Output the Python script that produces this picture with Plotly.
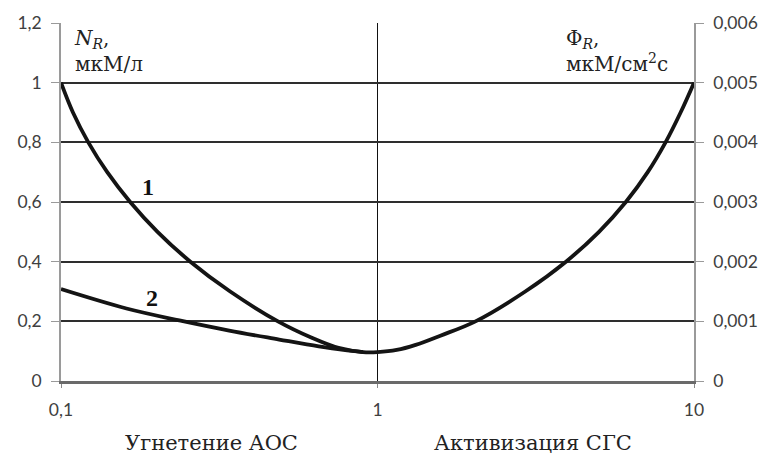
import plotly.graph_objects as go

# Curve 1 (full)
x1 = [0.1, 0.1091, 0.122, 0.14, 0.1654, 0.2018, 0.2563, 0.3424, 0.4848, 0.62, 0.753, 0.9, 1.0,
      1.15, 1.32, 1.58, 2.04, 2.93, 3.94, 5.01, 6.09, 7.14, 8.13, 9.07, 10.0]
y1 = [1.0, 0.9, 0.8, 0.7, 0.6, 0.5, 0.4, 0.3, 0.2, 0.145, 0.111, 0.097, 0.097,
      0.104, 0.121, 0.152, 0.2, 0.3, 0.4, 0.5, 0.6, 0.7, 0.8, 0.9, 1.0]

# Curve 2 (left branch)
x2 = [0.1, 0.161, 0.2366, 0.34, 0.489, 0.652, 0.78, 0.9]
y2 = [0.308, 0.243, 0.203, 0.169, 0.139, 0.116, 0.104, 0.097]

x_ticks = [0.1, 1, 10]
x_ticktext = ["0,1", "1", "10"]
y_left_ticks = [0, 0.2, 0.4, 0.6, 0.8, 1.0, 1.2]
y_right_ticks = [0, 0.001, 0.002, 0.003, 0.004, 0.005, 0.006]

line_col = "#141414"
fig = go.Figure()
fig.add_trace(go.Scatter(x=x1, y=y1, mode="lines",
                         line=dict(color=line_col, width=3.8, shape="spline", smoothing=1.0),
                         showlegend=False, hoverinfo="skip"))
fig.add_trace(go.Scatter(x=x2, y=y2, mode="lines",
                         line=dict(color=line_col, width=3.8, shape="spline", smoothing=1.0),
                         showlegend=False, hoverinfo="skip"))
# invisible trace to activate right axis
fig.add_trace(go.Scatter(x=[0.1], y=[0], yaxis="y2", mode="markers", marker=dict(opacity=0),
                         showlegend=False, hoverinfo="skip"))

tickfont = dict(family="Lato, Noto Sans, sans-serif", size=17.5, color="#404040")

fig.update_layout(
    width=770, height=456,
    margin=dict(l=61, r=73, t=20, b=75),
    paper_bgcolor="white", plot_bgcolor="white",
    separators=", ",
    xaxis=dict(type="log", range=[-1, 1], tickvals=x_ticks, ticktext=x_ticktext,
               showgrid=True, gridcolor="#111111", gridwidth=1.4,
               showline=True, linecolor="#6a6a6a", linewidth=3, mirror=False,
               ticks="outside", ticklen=4, tickcolor="#8a8a8a", tickfont=tickfont,
               ticklabelstandoff=7, zeroline=False),
    yaxis=dict(range=[0, 1.2], tickvals=y_left_ticks, showgrid=True, gridcolor="#2e2e2e", gridwidth=1.6,
               showline=True, linecolor="#9a9a9a", linewidth=1.5,
               ticks="outside", ticklen=8, tickcolor="#9a9a9a", tickfont=tickfont,
               ticklabelstandoff=6, zeroline=False),
    yaxis2=dict(range=[0, 0.006], tickvals=y_right_ticks, overlaying="y", side="right",
                showgrid=False, showline=True, linecolor="#9a9a9a", linewidth=1.5,
                ticks="outside", ticklen=8, tickcolor="#9a9a9a", tickfont=tickfont,
                ticklabelstandoff=6, zeroline=False),
)

serif = "DejaVu Serif, Liberation Serif, serif"
fig.add_annotation(xref="paper", yref="paper", x=(72 - 61) / 636, y=(381 - 21) / 361,
                   xanchor="left", yanchor="top",
                   text="<i>N</i><sub><i>R</i></sub>,<br>мкМ/л", showarrow=False, align="left",
                   font=dict(family=serif, size=20, color="#222"))
fig.add_annotation(xref="paper", yref="paper", x=(566 - 61) / 636, y=(381 - 21) / 361,
                   xanchor="left", yanchor="top",
                   text="Φ<sub><i>R</i></sub>,<br>мкМ/см<sup>2</sup>с", showarrow=False, align="left",
                   font=dict(family=serif, size=20, color="#222"))
fig.add_annotation(xref="x", yref="y", x=-0.726, y=0.651, text="<b>1</b>", showarrow=False,
                   font=dict(family="Liberation Serif, serif", size=24, color="#111"))
fig.add_annotation(xref="x", yref="y", x=-0.711, y=0.279, text="<b>2</b>", showarrow=False,
                   font=dict(family="Liberation Serif, serif", size=24, color="#111"))
fig.add_annotation(xref="paper", yref="paper", x=(212 - 61) / 636, y=(381 - 444) / 361,
                   xanchor="center", yanchor="middle", text="Угнетение АОС", showarrow=False,
                   font=dict(family=serif, size=21, color="#222"))
fig.add_annotation(xref="paper", yref="paper", x=(535 - 61) / 636, y=(381 - 444) / 361,
                   xanchor="center", yanchor="middle", text="Активизация СГС", showarrow=False,
                   font=dict(family=serif, size=21, color="#222"))

fig.write_html("out.html", config={"displayModeBar": False},
               post_script="document.body.style.margin='0';")
